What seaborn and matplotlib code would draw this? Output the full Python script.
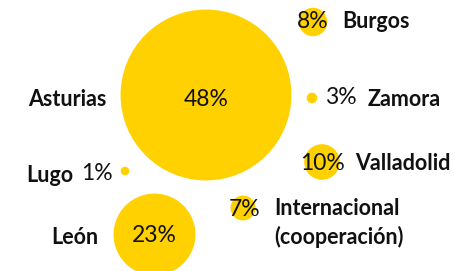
import matplotlib
matplotlib.use("Agg")
import matplotlib.pyplot as plt
import numpy as np
import pandas as pd
import seaborn as sns

# data
regions = ["Asturias", "León", "Burgos", "Zamora", "Valladolid", "Lugo", "Internacional\n(cooperación)"]
shares = [48, 23, 8, 3, 10, 1, 7]

# layout (pixel coords, y down)
cx = [206, 154.5, 313, 312, 322, 125, 243]
cy = [95, 234.5, 22, 98, 162, 171, 208]

W, H, DPI = 456, 271, 100
YELLOW = "#FFD100"
INK = "#111111"

sns.set_theme(style="white")
plt.rcParams["font.family"] = ["Lato", "DejaVu Sans"]

radius = np.maximum(1.78 * np.array(shares), 4.3)
df = pd.DataFrame({"region": regions, "share": shares, "x": cx, "y": cy,
                   "s": (2 * radius * 72 / DPI) ** 2})

fig = plt.figure(figsize=(W / DPI, H / DPI), dpi=DPI)
ax = fig.add_axes([0, 0, 1, 1])
sns.scatterplot(data=df, x="x", y="y", s=df["s"], color=YELLOW,
                linewidth=0, legend=False, ax=ax, zorder=1)
ax.set_xlim(0, W)
ax.set_ylim(H, 0)
ax.set_axis_off()

pct = dict(fontsize=16.5, fontweight="normal", color=INK, va="center")
lab = dict(fontsize=15.5, fontweight="bold", color=INK, va="center")

def p(i):
    return f"{shares[i]}%"

# Asturias
ax.text(206, 99, p(0), ha="center", **pct)
ax.text(107, 100, regions[0], ha="right", **lab)
# León
ax.text(154, 236, p(1), ha="center", **pct)
ax.text(98, 237, regions[1], ha="right", **lab)
# Burgos
ax.text(313, 22, p(2), ha="center", **pct)
ax.text(342, 21, regions[2], ha="left", **lab)
# Zamora
ax.text(325, 98, p(3), ha="left", **pct)
ax.text(368, 99, regions[3], ha="left", **lab)
# Valladolid
ax.text(322, 163, p(4), ha="center", **pct)
ax.text(355, 164, regions[4], ha="left", **lab)
# Lugo
ax.text(113, 174, p(5), ha="right", **pct)
ax.text(26, 175, regions[5], ha="left", **lab)
# Internacional
ax.text(245, 209, p(6), ha="center", **pct)
ax.text(274, 223, regions[6], ha="left", linespacing=1.35, **lab)

fig.savefig("out.png", dpi=DPI)
